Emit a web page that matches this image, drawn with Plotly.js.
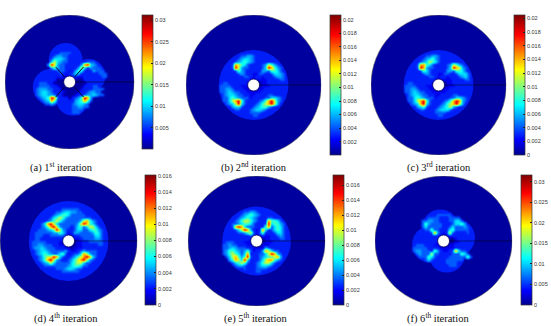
<!DOCTYPE html>
<html><head><meta charset="utf-8">
<script src="https://cdn.plot.ly/plotly-3.0.1.min.js"></script>
<style>html,body{margin:0;padding:0;background:#fff}#c{width:551px;height:326px}</style>
</head><body><div id="c"></div>
<script>
// Field, one row per 3 px, levels 0-9 (trailing zeros omitted)
const levelFractions = [.015,.09,.14,.20,.27,.33,.42,.55,.70,.88];
const gridA = ["","","",
"000000000000111111",
"0000000001122222221",
"00000000122233332221",
"000000001234433222221",
"0000000013555432222211110",
"00000000257543322221233321",
"000000004974332221248954321",
"0000000014643322124752433321",
"00000000012333212465222433321",
"000000100012321235422222233321",
"0001111100012112221112222233210",
"0012222211000000000011222222210",
"0122233321000000000001122222210",
"0002233332210000000012233222210",
"0002344433221000000122233332210",
"0002345543222100001223443322210",
"0002345544322000012234454332100",
"000023456983200013469842",
"000002345862000124568632",
"00000023343200223455432",
"00000000000002223344332",
"000000000000222233332200",
"00000000000122223332210",
"0000000000012222222221",
"00000000000011222211"];
const gridB = ["","","","",
"00000000000222222222",
"0000000002233443222222",
"00000000223455432222222",
"000000022345654322222222",
"0000002238765322223476432",
"00000222397433222235986432",
"00000222236432221244366532",
"000022222234322113322355432",
"000022222222332122122234432",
"000022222222221111111222332",
"0002233222222110001112222222",
"0002333322211110001111222222",
"0002334432221100011222222222",
"000033454332211111222222222",
"000023455433221122223322222",
"000023356543331222233554322",
"00000335789632222346897432",
"00000234579532223467897422",
"0000002245532223456643222",
"000000022332223455432222",
"00000000222222333322222",
"0000000002222223322222",
"00000000000222222222"];
const gridC = ["","","","",
"00000000000222222222",
"0000000002233443222222",
"00000000223456432222222",
"000000022345765322222222",
"0000002238865322223476432",
"00000222398433222235987432",
"00000222236532221244366532",
"000022222234322113322355532",
"000022222222332122122234532",
"000022222222221111111222332",
"0002233222222110001112222222",
"0002333322211110001111222222",
"0002334432221100011222222222",
"000033454332211111222222222",
"000023455433221122223322222",
"000023356543331222233554322",
"00000335789632222346898432",
"00000234589532223467897422",
"0000002245632223456743222",
"000000022332223455532222",
"00000000222222333322222",
"0000000002222223322222",
"00000000000222222222"];
const gridD = ["","",
"0000000000002222222",
"0000000002222222222222",
"00000000222223333332222",
"0000002222233455443322222",
"00000222223456653333322222",
"000022222356764333333332222",
"000022223467643333347864322",
"0002223589753333334798653222",
"0002223468974333235635775322",
"00222333456974322355335664322",
"00223333334465312443333465322",
"00223332233333211223333355322",
"00223322222222100112333344322",
"00233333222211000011223333322",
"00233443332211100011122223322",
"00234454333222110111222222222",
"00223455433333421123433332222",
"0002345654335631233587433222",
"0002234677985322346789853222",
"000023468974322346789743222",
"000022345753333356775332222",
"00000223333333345665332222",
"0000002222233345543322222",
"0000002222222333333222222",
"00000000222222222222222",
"0000000002222222222222",
"0000000000002222222"];
const gridE = ["","","","",
"00000000000222222222",
"0000000002233443222222",
"00000000223456543222222",
"000000022345654322233222",
"0000002234677643222866532",
"00000223345665322239566432",
"00000223898533322268356532",
"000022223579842128523565322",
"000022222334673136222355322",
"000022222222232112112234322",
"0002222222222110001122233222",
"0002233322211110001112222222",
"0002334332221100011122222222",
"000033454333221111432222222",
"000034665434631224875332222",
"000034676535822233579843222",
"00000357864693223456678422",
"00000246875952223578864322",
"0000002356763223467753222",
"000000023443222345543222",
"00000000222322233332222",
"0000000002222223322222",
"00000000000222222222"];
const gridF = ["","","","",
"000000000000222222",
"000000000022222222222",
"00000000222223333322222",
"000000022233332223333222",
"000000023344332223355322",
"0000002236433332223556422",
"00000222353333322353334322",
"00000222233633222563333322",
"000022222223842127322223222",
"000022222222221112222222222",
"0000222222222211000112222222",
"0000222222222111000111222222",
"000022333222110001122222222",
"000023333322221111122222222",
"000023443332642112385332222",
"00000234333733222233365322",
"00000223336532222333333632",
"0000002223532222333333222",
"0000002222222222333322222",
"00000000222222222333222",
"0000000002222222222222",
"000000000022222222222",
"000000000000222222"];

const captions = ["(a) 1<sup>st</sup> iteration","(b) 2<sup>nd</sup> iteration","(c) 3<sup>rd</sup> iteration",
                  "(d) 4<sup>th</sup> iteration","(e) 5<sup>th</sup> iteration","(f) 6<sup>th</sup> iteration"];
const captionX = [62,255,441,66,257,440];
const captionY = [167,167,167,318,318,318];
const zMin = [.00005,.00003,0,0,0,0];
const zMax = [.0312,.0207,.0205,.0161,.0174,.0317];
const dTick = [.005,.002,.002,.002,.002,.005];
const centerX = [70,255,441,69,258,446];
const centerY = [82,85,85,241,241,241];
const radiusX = [65,68,68,69,69,69];
const radiusY = [67,70,70,65,65,65];
const barLeft = [143,332,517,146,335,524];
const barTop = [15,15,15,175,175,175];
const barBottom = [149,155,155,305,305,305];
const spokeX = [-14,-5,null,14,5,null,14,5,null,-14,-5];
const spokeY = [15,5,null,15,5,null,-15,-5,null,-15,-5];
// Outline of the lit zone around the hub, as circles [x, y, r] in px from the disc centre
const zonesA = [[-4,22,17],[19,6,17],[3,-17,16.5],[-19,-5,18]];
const zonesB = [[0,0,35]];
const zonesC = [[0,0,35]];
const zonesD = [[0,0,40]];
const zonesE = [[0,0,34.5]];
const zonesF = [[-3.3,13.3,18.3],[13.3,3.3,18.3],[3.3,-13.3,18.3],[-13.3,-3.3,18.3],[0,0,24]];

const grids=[gridA,gridB,gridC,gridD,gridE,gridF];
const zones=[zonesA,zonesB,zonesC,zonesD,zonesE,zonesF];
const W=551,H=326,N=31,CELL=3,BASE=2,HUB_REACH=5;
const jet=[[0,'rgb(0,0,143)'],[.11,'rgb(0,0,255)'],[.36,'rgb(0,255,255)'],[.61,'rgb(255,255,0)'],[.86,'rgb(255,0,0)'],[1,'rgb(128,0,0)']];
const fieldScale=[[0,'rgba(0,0,143,1)'],[.09,'rgba(0,0,235,1)'],[.14,'rgba(0,31,255,0)'],[.20,'rgba(0,92,255,1)'],[.36,'rgba(0,255,255,1)'],[.61,'rgba(255,255,0,1)'],[.86,'rgba(255,0,0,1)'],[1,'rgba(128,0,0,1)']];
const offs=[...Array(N).keys()].map(i=>(i-15)*CELL);
const data=[],shapes=[],annotations=[],layout={};
grids.forEach((g,p)=>{
  const s=p?String(p+1):'';
  const xk='x'+s,yk='y'+s;
  const zs=[];
  for(let r=N-1;r>=0;r--){
    const row=(g[r]||'').padEnd(N,'0');
    zs.push([...row].map((c,i)=>{
      let lv=+c;
      if(lv<BASE && Math.hypot(i-15,r-15)>HUB_REACH) lv=BASE;
      return zMin[p]+levelFractions[lv]*(zMax[p]-zMin[p]);
    }));
  }
  data.push({type:'heatmap',x:offs,y:offs,z:zs,xaxis:xk,yaxis:yk,zsmooth:'best',zmin:zMin[p],zmax:zMax[p],colorscale:fieldScale,showscale:false,hoverinfo:'skip'});
  data.push({type:'scatter',mode:'markers',x:[0],y:[0],xaxis:xk,yaxis:yk,hoverinfo:'skip',showlegend:false,
    marker:{size:1,opacity:0,color:[zMin[p]],cmin:zMin[p],cmax:zMax[p],colorscale:jet,showscale:true,
    colorbar:{x:barLeft[p]/W,xanchor:'left',y:(H-barBottom[p])/H,yanchor:'bottom',len:(barBottom[p]-barTop[p])/H,lenmode:'fraction',
      thickness:11,thicknessmode:'pixels',xpad:0,ypad:0,tick0:0,dtick:dTick[p],ticks:'inside',ticklen:2,tickwidth:.5,tickcolor:'#222',
      tickfont:{family:'Liberation Sans',size:5.5,color:'#333'},outlinewidth:.7,outlinecolor:'#333'}}});
  data.push({type:'scatter',mode:'lines',x:[6,radiusX[p]],y:[0,0],xaxis:xk,yaxis:yk,line:{color:'rgba(0,0,0,.7)',width:.7},hoverinfo:'skip',showlegend:false});
  if(p===0) data.push({type:'scatter',mode:'lines',x:spokeX,y:spokeY,xaxis:xk,yaxis:yk,line:{color:'#00003a',width:1},hoverinfo:'skip',showlegend:false});
  layout['xaxis'+s]={domain:[(centerX[p]-radiusX[p])/W,(centerX[p]+radiusX[p])/W],range:[-radiusX[p],radiusX[p]],visible:false,fixedrange:true,anchor:yk};
  layout['yaxis'+s]={domain:[(H-centerY[p]-radiusY[p])/H,(H-centerY[p]+radiusY[p])/H],range:[-radiusY[p],radiusY[p]],visible:false,fixedrange:true,anchor:xk};
  shapes.push({type:'circle',xref:xk,yref:yk,x0:-radiusX[p],x1:radiusX[p],y0:-radiusY[p],y1:radiusY[p],layer:'below',fillcolor:'#00009e',line:{color:'#666',width:.6}});
  zones[p].forEach(c=>shapes.push({type:'circle',xref:xk,yref:yk,x0:c[0]-c[2],x1:c[0]+c[2],y0:c[1]-c[2],y1:c[1]+c[2],layer:'below',fillcolor:'#001ff8',line:{width:0}}));
  shapes.push({type:'circle',xref:xk,yref:yk,x0:-6,x1:6,y0:-6,y1:6,layer:'above',fillcolor:'#fff',line:{color:'#00005a',width:.8}});
  annotations.push({text:captions[p],xref:'paper',yref:'paper',x:captionX[p]/W,y:(H-captionY[p])/H,xanchor:'center',yanchor:'middle',showarrow:false,
    font:{family:'Liberation Serif',size:10.5,color:'#111'}});
});
Object.assign(layout,{width:W,height:H,margin:{l:0,r:0,t:0,b:0},paper_bgcolor:'#fff',plot_bgcolor:'rgba(0,0,0,0)',showlegend:false,shapes,annotations});
Plotly.newPlot('c',data,layout,{displayModeBar:false,responsive:false});
</script></body></html>
